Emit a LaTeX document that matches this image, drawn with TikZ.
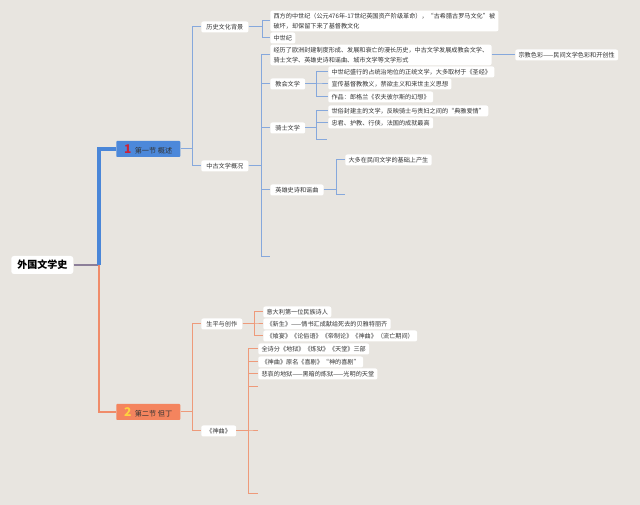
\documentclass[tikz,border=0pt]{standalone}
\usepackage{fontspec}
\newfontfamily\cjk{Noto Sans CJK SC}
\usetikzlibrary{calc}
\definecolor{bg}{HTML}{E8E5E0}
\definecolor{txt}{HTML}{333333}
\definecolor{blt}{HTML}{86A8DC}
\definecolor{blm}{HTML}{4A86D8}
\definecolor{blf}{HTML}{4C88DA}
\definecolor{ort}{HTML}{EE9A7A}
\definecolor{orm}{HTML}{F08C6A}
\definecolor{orf}{HTML}{F4845E}
\definecolor{rootl}{HTML}{8C7F99}
\definecolor{crim}{HTML}{C8243C}
\definecolor{yel}{HTML}{FFD23F}
\begin{document}
\begin{tikzpicture}[x=0.75pt,y=-0.75pt,
  leaf/.style={fill=white, rounded corners=1.5pt, text=txt, anchor=west, align=left,
    font=\cjk\fontsize{4.6}{7.5}\selectfont, inner xsep=2.5pt, inner ysep=1.8pt, minimum height=8.25pt},
  mid/.style={leaf, inner xsep=3.9pt},
  rootbox/.style={fill=white, rounded corners=2pt, text=black, anchor=west,
    font=\cjk\bfseries\fontsize{7.5}{9}\selectfont, inner xsep=4.5pt, inner ysep=0pt, minimum height=13.5pt},
  secbox/.style={anchor=west, minimum width=48pt, minimum height=12pt, inner sep=0pt,
    text=txt, font=\cjk\fontsize{5.4}{6}\selectfont, rounded corners=0.6pt},
  bl/.style={draw=blt, line width=0.75pt},
  ol/.style={draw=ort, line width=0.75pt}
]
\fill[bg] (0,0) rectangle (640,505);
\useasboundingbox (0,0) rectangle (640,505);

% root and sections
\node[rootbox] (r) at (11,265) {外国文学史};
\node[secbox, fill=blf] (s1) at (116,149) {{\fontsize{9}{9}\selectfont\bfseries\color{crim}1}\hspace{2.5pt}第一节 概述};
\node[secbox, fill=orf] (s2) at (116,412) {{\fontsize{9}{9}\selectfont\bfseries\color{yel}2}\hspace{2.5pt}第二节 但丁};

\coordinate (rj) at (99,265);
\draw[rootl, line width=1.5pt] (r.east) -- (rj);
\draw[blm, line width=2.4pt] (rj) |- (s1.west);
\draw[orm, line width=1.5pt] (rj) |- (s2.west);

% section 1
\node[mid] (a1) at (201,27) {历史文化背景};
\node[mid] (a2) at (201,166) {中古文学概况};
\draw[bl] (s1.east) -- ++(12,0) |- (a1.west);
\draw[bl] (s1.east) -- ++(12,0) |- (a2.west);

\node[leaf] (b1) at (270,21) {西方的中世纪（公元476年-17世纪英国资产阶级革命），“古希腊古罗马文化”被\\破坏，却保留下来了基督教文化};
\node[leaf] (b2) at (270,38) {中世纪};
\draw[bl] (a1.east) -- ++(14,0) |- (b1.west);
\draw[bl] (a1.east) -- ++(14,0) |- (b2.west);

\node[leaf] (c1) at (270,55) {经历了欧洲封建制度形成、发展和衰亡的漫长历史，中古文学发展成教会文学、\\骑士文学、英雄史诗和谣曲、城市文学等文学形式};
\node[mid] (c2) at (270,84) {教会文学};
\node[mid] (c3) at (270,128) {骑士文学};
\node[mid] (c4) at (270,190) {英雄史诗和谣曲};
\coordinate (c5) at (270,257);
\foreach \c in {c1,c2,c3,c4} \draw[bl] (a2.east) -- ++(13,0) |- (\c.west);
\draw[bl] (a2.east) -- ++(13,0) |- (c5);

\node[leaf] (d1) at (515,55) {宗教色彩——民间文学色彩和开创性};
\draw[bl] (c1.east) -- (d1.west);

\node[leaf] (e1) at (328,72) {中世纪盛行的占统治地位的正统文学，大多取材于《圣经》};
\node[leaf] (e2) at (328,84) {宣传基督教教义，禁欲主义和来世主义思想};
\node[leaf] (e3) at (328,97) {作品：郎格兰《农夫彼尔斯的幻想》};
\foreach \c in {e1,e2,e3} \draw[bl] (c2.east) -- ++(11,0) |- (\c.west);

\node[leaf] (f1) at (328,111) {世俗封建主的文学，反映骑士与贵妇之间的“典雅爱情”};
\node[leaf] (f2) at (328,123) {忠君、护教、行侠，法国的成就最高};
\coordinate (f3) at (327,140);
\foreach \c in {f1,f2} \draw[bl] (c3.east) -- ++(11,0) |- (\c.west);
\draw[bl] (c3.east) -- ++(11,0) |- (f3);

\node[leaf] (g1) at (345,160) {大多在民间文学的基础上产生};
\coordinate (g2) at (345,195);
\draw[bl] (c4.east) -- ++(13,0) |- (g1.west);
\draw[bl] (c4.east) -- ++(13,0) |- (g2);

% section 2
\node[mid] (h1) at (201,324) {生平与创作};
\node[mid] (h2) at (201,431) {《神曲》};
\draw[ol] (s2.east) -- ++(12,0) |- (h1.west);
\draw[ol] (s2.east) -- ++(12,0) |- (h2.west);

\node[leaf] (i1) at (263,312) {意大利第一位民族诗人};
\node[leaf] (i2) at (263,324) {《新生》——情书汇成献给死去的贝雅特丽齐};
\node[leaf] (i3) at (263,336) {《飨宴》《论俗语》《帝制论》《神曲》（流亡期间）};
\foreach \c in {i1,i2,i3} \draw[ol] (h1.east) -- ++(12,0) |- (\c.west);

\node[leaf] (k1) at (258,349) {全诗分《地狱》《炼狱》《天堂》三部};
\node[leaf] (k2) at (258,362) {《神曲》原名《喜剧》“神的喜剧”};
\node[leaf] (k3) at (258,374) {悲哀的地狱——黑暗的炼狱——光明的天堂};
\coordinate (k4) at (258,387);
\coordinate (k5) at (258,431);
\coordinate (k6) at (258,494);
\foreach \c in {k1,k2,k3} \draw[ol] (h2.east) -- ++(12,0) |- (\c.west);
\foreach \c in {k4,k5,k6} \draw[ol] (h2.east) -- ++(12,0) |- (\c);
\end{tikzpicture}
\end{document}
